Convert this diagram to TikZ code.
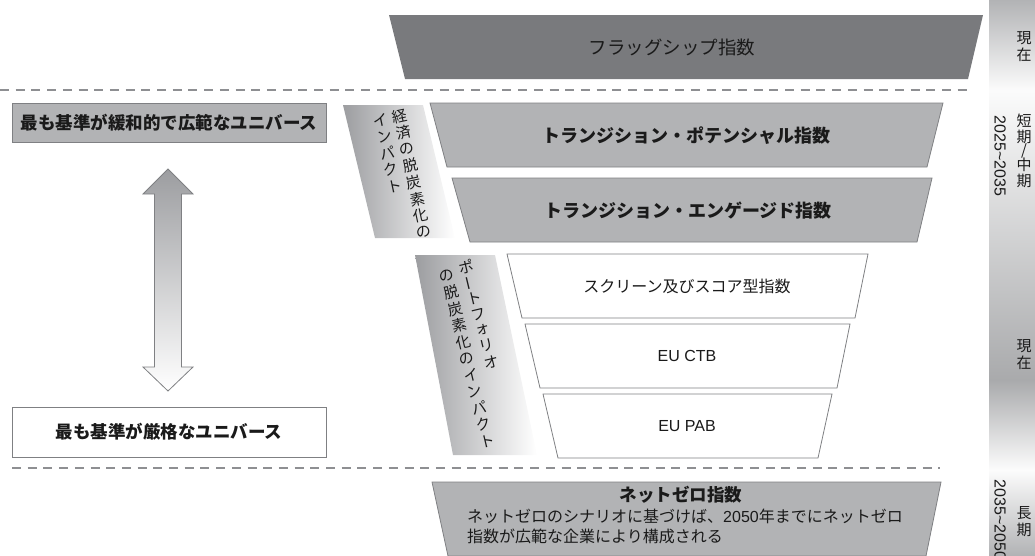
\documentclass[tikz,border=0pt]{standalone}
\usepackage{fontspec}
\setmainfont{Noto Sans CJK JP}
\newfontfamily\lat{Liberation Sans}
\definecolor{flag}{HTML}{797A7D}
\definecolor{mid}{HTML}{B2B3B5}
\definecolor{edge}{HTML}{7F8083}
\definecolor{dashc}{HTML}{8E8F92}
\definecolor{ink}{HTML}{1A1A1A}
\definecolor{lgray}{HTML}{9C9DA0}
\begin{document}
\begin{tikzpicture}[x=1pt,y=-1pt,
  trap/.style={draw=edge, line width=0.8pt, fill=mid},
  wtrap/.style={draw=edge, line width=0.8pt, fill=white},
  sep/.style={draw=dashc, line width=2pt, dash pattern=on 9pt off 6.7pt},
  jt/.style={text=ink, inner sep=0pt, font=\fontsize{16}{18}\selectfont},
  jb/.style={text=ink, inner sep=0pt, font=\fontsize{18}{20}\selectfont\bfseries},
  lb/.style={text=ink, inner sep=0pt, font=\fontsize{17.5}{20}\selectfont\bfseries},
  vch/.style={text=ink, inner sep=0pt, font=\fontsize{15}{16}\selectfont},
  tch/.style={text=ink, inner sep=0pt, font=\fontsize{15}{16}\selectfont},
  tnum/.style={text=ink, inner sep=0pt, font=\lat\fontsize{16}{18}\selectfont, rotate=-90}
]
\useasboundingbox (0,0) rectangle (1035,555);

% time strip
\shade[top color=mid, bottom color=white!95!mid] (989,0) rectangle (1035,90);
\shade[top color=white!95!mid, bottom color=mid!95!black] (989,90) rectangle (1035,380);
\shade[top color=mid!95!black, bottom color=white!96!mid] (989,380) rectangle (1035,470);
\shade[top color=white!96!mid, bottom color=mid] (989,470) rectangle (1035,555.5);

\node[tch] (t1a) at (1024,38) {現};
\node[tch] (t1b) at (1024,55) {在};
\node[tch] (t2a) at (1024,121) {短};
\node[tch] (t2b) at (1024,137) {期};
\node[tch] (t2c) at (1024,151) {/};
\node[tch] (t2d) at (1024,165) {中};
\node[tch] (t2e) at (1024,181) {期};
\node[tnum] (t2n) at (1000,156) {2025\textasciitilde 2035};
\node[tch] (t3a) at (1024,346) {現};
\node[tch] (t3b) at (1024,363) {在};
\node[tch] (t4a) at (1024,513) {長};
\node[tch] (t4b) at (1024,530) {期};
\node[tnum] (t4n) at (1000,520) {2035\textasciitilde 2050};

% flagship
\fill[flag] (389,15) -- (983,15) -- (968,79) -- (405,79) -- cycle;
\node[text=ink, inner sep=0pt, font=\fontsize{18.5}{20}\selectfont] (flagship) at (672,47) {フラッグシップ指数};

% separators
\coordinate (s1a) at (0,90);
\coordinate (s1b) at (967,90);
\coordinate (s2a) at (12,468);
\coordinate (s2b) at (940,468);
\draw[sep] (s1a) -- (s1b);
\draw[sep] (s2a) -- (s2b);

% left boxes
\draw[trap] (12,103) rectangle (326,142);
\node[lb] (wide) at (169,122.5) {最も基準が緩和的で広範なユニバース};
\draw[wtrap] (12,407) rectangle (326,457);
\node[lb] (strict) at (169,432) {最も基準が厳格なユニバース};

% double arrow
\shade[top color=lgray, bottom color=white, draw=edge, line width=0.8pt]
  (168,169) -- (193,194) -- (181.5,194) -- (181.5,367) -- (193,367) -- (168,391)
  -- (143,367) -- (154.5,367) -- (154.5,194) -- (143,194) -- cycle;

% slanted labels
\shade[left color=lgray, right color=white] (343,105) -- (423,105) -- (455,238) -- (375,238) -- cycle;
\foreach \c [count=\i from 0] in {経,済,の,脱,炭,素,化,の}
  \node[vch, rotate=12] (la\i) at ({400+\i*3.43},{116+\i*16.57}) {\c};
\foreach \c [count=\i from 0] in {イ,ン,パ,ク,ト}
  \node[vch, rotate=12] (lb\i) at ({381+\i*3.3},{120+\i*16.5}) {\c};

\shade[left color=lgray, right color=white] (415,255) -- (495,255) -- (537,455) -- (453,455) -- cycle;
\foreach \c [count=\i from 0] in {ポ,{\rotatebox[origin=c]{90}{ー}},ト,フ,ォ,リ,オ}
  \node[vch, rotate=13.5] (lc\i) at ({466+\i*4.17},{267+\i*15.8}) {\c};
\foreach \c [count=\i from 0] in {の,脱,炭,素,化,の,イ,ン,パ,ク,ト}
  \node[vch, rotate=13.5] (ld\i) at ({447+\i*4},{276+\i*16.5}) {\c};

% transition indices
\draw[trap] (430,103) -- (943,103) -- (927,167) -- (447,167) -- cycle;
\node[jb] (tp) at (686,136) {トランジション・ポテンシャル指数};
\draw[trap] (452,178) -- (932,178) -- (917,242) -- (470,242) -- cycle;
\node[jb] (te) at (688,211) {トランジション・エンゲージド指数};

% screening / CTB / PAB
\draw[wtrap] (507,254) -- (868,254) -- (855,318) -- (522,318) -- cycle;
\node[jt] (scr) at (687,286) {スクリーン及びスコア型指数};
\draw[wtrap] (525,324) -- (850,324) -- (837,388) -- (540,388) -- cycle;
\node[jt, font=\lat\fontsize{16}{18}\selectfont] (ctb) at (687,356) {EU CTB};
\draw[wtrap] (543,394) -- (832,394) -- (818,458) -- (558,458) -- cycle;
\node[jt, font=\lat\fontsize{16}{18}\selectfont] (pab) at (687,426) {EU PAB};

% net zero
\draw[trap] (432,482) -- (941,482) -- (926,556) -- (448,556) -- cycle;
\node[lb] (nz) at (681,495) {ネットゼロ指数};
\node[jt, anchor=west] (nz1) at (467,516) {ネットゼロのシナリオに基づけば、{\lat 2050}年までにネットゼロ};
\node[jt, anchor=west] (nz2) at (467,536) {指数が広範な企業により構成される};
\end{tikzpicture}
\end{document}
